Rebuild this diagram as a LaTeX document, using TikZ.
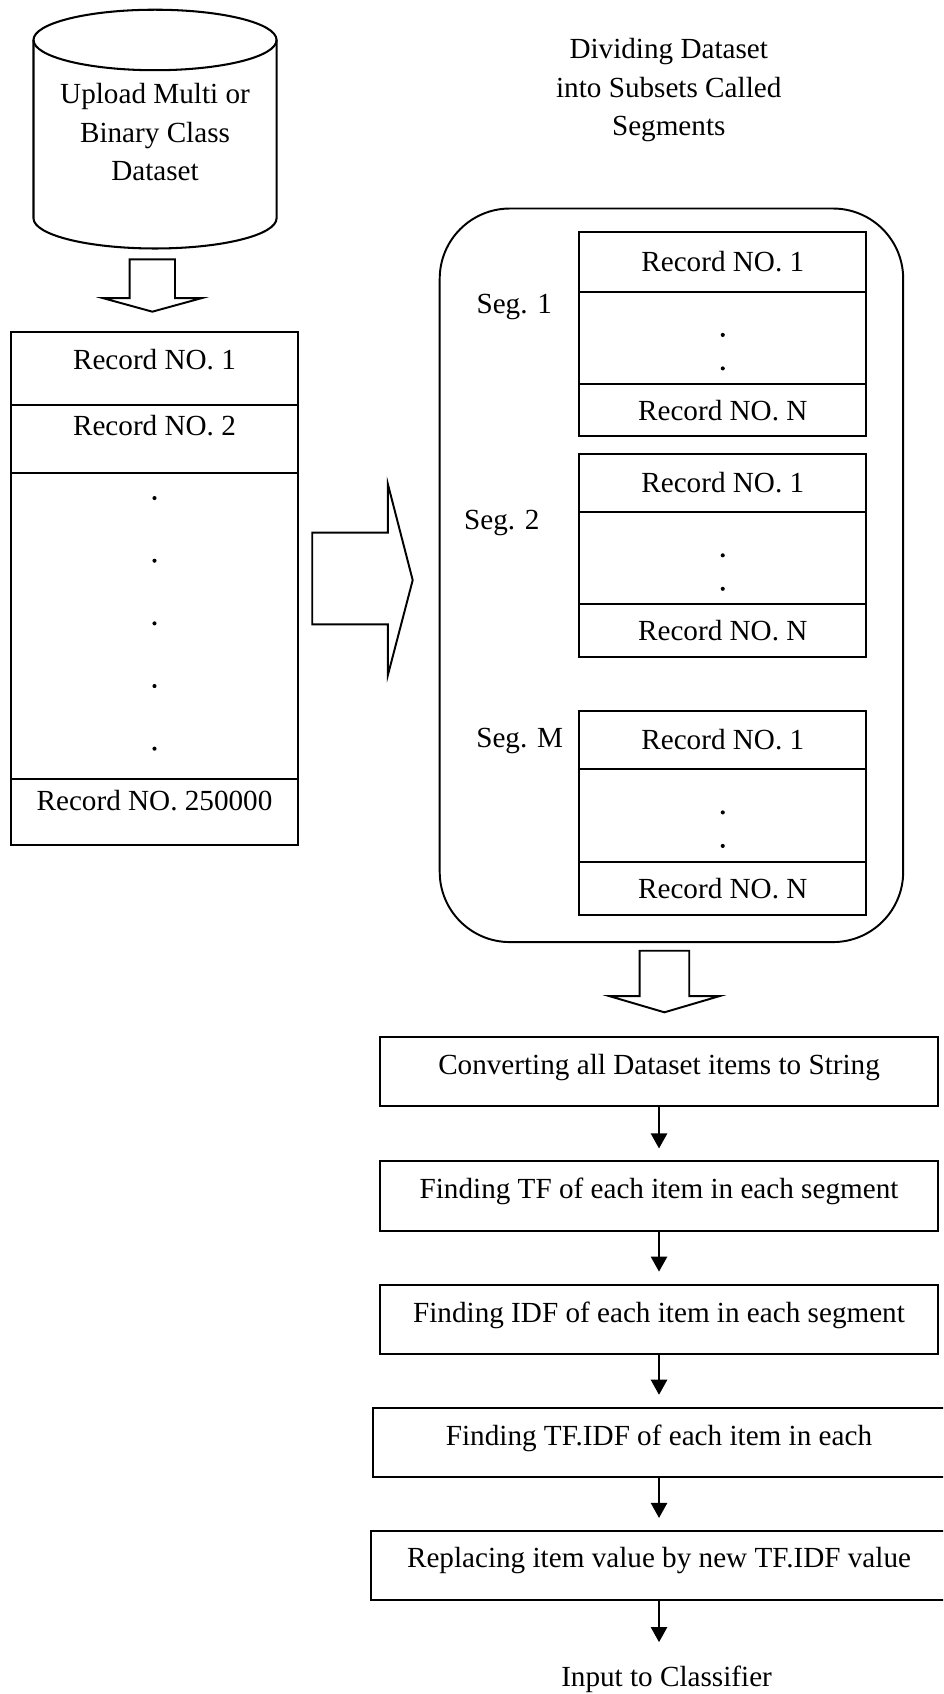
\documentclass[tikz,border=0pt]{standalone}
\usepackage{fontspec}
\setmainfont{Liberation Serif}
\usetikzlibrary{arrows.meta}

\begin{document}
\begin{tikzpicture}[x=1pt,y=-1pt,line width=1.9pt,
  txt/.style={font=\fontsize{27}{33}\selectfont, inner sep=0pt, anchor=base},
  frame/.style={draw, rectangle, inner sep=0pt},
  flow/.style={-{Triangle[length=14pt,width=15pt]}, line width=2pt, shorten >=11pt},
  blockarrow/.style={draw, line width=1.8pt, line join=miter, fill=white},
  recdot/.style={fill, circle, inner sep=0pt, minimum size=3.8pt}
]
\useasboundingbox (0,0) rectangle (873,1568);
\fill[white] (0,0) rectangle (873,1568);
\clip (0,0) rectangle (873,1568);

% ---------- data source (cylinder) ----------
\node[inner sep=0pt, minimum width=225pt, minimum height=221pt] (db) at (143.5,119.5) {};
\draw (31,37) -- (31,202) arc[start angle=180, end angle=360, x radius=112.5pt, y radius=28pt] -- (256,37);
\draw (143.5,37) ellipse [x radius=112.5pt, y radius=28pt];
\node[txt] (db1) at (143.5,96)  {Upload Multi or};
\node[txt] (db2) at (143.5,131.5) {Binary Class};
\node[txt] (db3) at (143.5,167) {Dataset};

% block arrow: source -> full dataset
\draw[blockarrow] (120,240) -- (162,240) -- (162,276) -- (186.5,276) -- (141,288.5)
  -- (95.5,276) -- (120,276) -- cycle;

% ---------- full dataset table ----------
\node[frame, minimum width=266pt, minimum height=475pt] (lbox) at (143,544.5) {};
\draw (lbox.west |- 0,375) -- (lbox.east |- 0,375);
\draw (lbox.west |- 0,438) -- (lbox.east |- 0,438);
\draw (lbox.west |- 0,721) -- (lbox.east |- 0,721);
\node[txt] (lr1) at (143,342) {Record NO. 1};
\node[txt] (lr2) at (143,403) {Record NO. 2};
\node[txt] (lrn) at (143,750) {Record NO. 250000};
\foreach \yy/\nm in {461/ld1,519/ld2,577/ld3,635/ld4,693/ld5}
  \node[recdot] (\nm) at (143,\yy) {};

% block arrow: dataset -> segments
\draw[blockarrow] (289,493) -- (359,493) -- (359,448) -- (382,537) -- (359,625)
  -- (359,578) -- (289,578) -- cycle;

% ---------- segments ----------
\node[txt] (dv1) at (619,54)    {Dividing Dataset};
\node[txt] (dv2) at (619,90)    {into Subsets Called};
\node[txt] (dv3) at (619,125.5) {Segments};

\node[draw, rectangle, rounded corners=65pt, minimum width=429pt, minimum height=679pt,
  line width=1.8pt] (seg) at (621.5,532.5) {};

% segment 1
\node[frame, minimum width=266pt, minimum height=189pt] (s1) at (669,309.5) {};
\draw (s1.west |- 0,270) -- (s1.east |- 0,270);
\draw (s1.west |- 0,355) -- (s1.east |- 0,355);
\node[txt] (s1a) at (669,251) {Record NO. 1};
\node[txt] (s1b) at (669,389) {Record NO. N};
\node[recdot] (s1d1) at (669,310) {};
\node[recdot] (s1d2) at (669,341) {};
\node[txt] (l1) at (476,290.5) {Seg. 1};

% segment 2
\node[frame, minimum width=266pt, minimum height=188pt] (s2) at (669,514) {};
\draw (s2.west |- 0,474) -- (s2.east |- 0,474);
\draw (s2.west |- 0,559) -- (s2.east |- 0,559);
\node[txt] (s2a) at (669,456) {Record NO. 1};
\node[txt] (s2b) at (669,593) {Record NO. N};
\node[recdot] (s2d1) at (669,514) {};
\node[recdot] (s2d2) at (669,545) {};
\node[txt] (l2) at (464.5,490.5) {Seg. 2};

% segment M
\node[frame, minimum width=266pt, minimum height=189pt] (sm) at (669,752.5) {};
\draw (sm.west |- 0,712) -- (sm.east |- 0,712);
\draw (sm.west |- 0,798) -- (sm.east |- 0,798);
\node[txt] (sma) at (669,694) {Record NO. 1};
\node[txt] (smb) at (669,832) {Record NO. N};
\node[recdot] (smd1) at (669,752) {};
\node[recdot] (smd2) at (669,783) {};
\node[txt] (lm) at (481,692) {Seg. M};

% block arrow: segments -> processing
\draw[blockarrow] (592,880) -- (638,880) -- (638,922) -- (666,922) -- (615,937)
  -- (564,922) -- (592,922) -- cycle;

% ---------- processing steps ----------
\node[frame, minimum width=517pt, minimum height=64pt] (b1) at (610,992) {};
\node[frame, minimum width=517pt, minimum height=64pt] (b2) at (610,1107) {};
\node[frame, minimum width=517pt, minimum height=64pt] (b3) at (610,1221) {};
\node[frame, minimum width=530pt, minimum height=64pt] (b4) at (610,1335) {};
\node[frame, minimum width=534pt, minimum height=64pt] (b5) at (610,1449) {};

\node[txt] (t1) at (610,995)  {Converting all Dataset items to String};
\node[txt] (t2) at (610,1109) {Finding TF of each item in each segment};
\node[txt] (t3) at (610,1224) {Finding IDF of each item in each segment};
\node[txt] (t4) at (610,1338) {Finding TF.IDF of each item in each};
\node[txt] (t5) at (610,1451) {Replacing item value by new TF.IDF value};
\node[txt] (out) at (617,1561) {Input to Classifier};

\draw[flow] (b1.south) -- (b2.north);
\draw[flow] (b2.south) -- (b3.north);
\draw[flow] (b3.south) -- (b4.north);
\draw[flow] (b4.south) -- (b5.north);
\coordinate (outtip) at (610,1520);
\draw[flow, shorten >=0pt] (b5.south) -- (outtip);
\end{tikzpicture}
\end{document}
